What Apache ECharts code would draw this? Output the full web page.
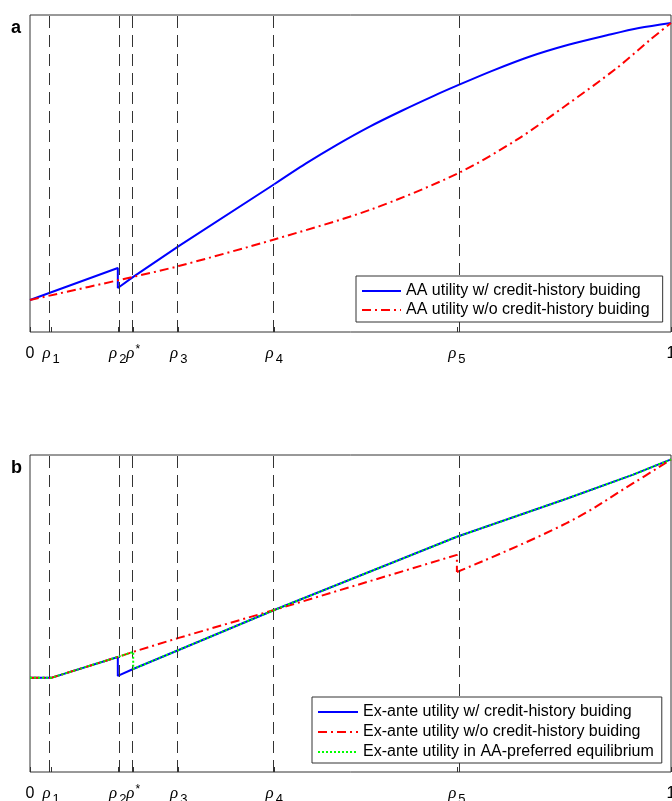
<!DOCTYPE html>
<html>
<head>
<meta charset="utf-8">
<script src="https://cdn.jsdelivr.net/npm/echarts@6/dist/echarts.min.js"></script>
<style>
  html, body { margin: 0; padding: 0; background: #fff; overflow: hidden; }
  #chart { width: 672px; height: 801px; }
</style>
</head>
<body>
<div id="chart"></div>
<script>
// rho axis ticks
const tickValues = [0, 0.033, 0.137, 0.161, 0.232, 0.381, 0.666, 1];
const tickLabels = ['{n|0}', '{r|ρ}{sub|1}', '{r|ρ}{sub|2}', '{r|ρ}{sup|*}', '{r|ρ}{sub|3}', '{r|ρ}{sub|4}', '{r|ρ}{sub|5}', '{n|1}'];
const rhoLines = [0.033, 0.137, 0.161, 0.232, 0.381, 0.666];

// panel a: AA utility (piecewise part, then the curved part from rho4)
const aWithX = [0, 0.137, 0.137, 0.161, 0.232, 0.381];
const aWithY = [0.101, 0.202, 0.139, 0.174, 0.271, 0.466];
const aWithCurveX = [0.381, 0.43, 0.48, 0.53, 0.58, 0.63, 0.666, 0.72, 0.78, 0.84, 0.90, 0.95, 1];
const aWithCurveY = [0.466, 0.531, 0.592, 0.648, 0.698, 0.745, 0.777, 0.823, 0.869, 0.906, 0.936, 0.959, 0.975];
const aWithoutX = [0, 0.161, 0.232, 0.381, 0.530, 0.666, 0.759, 0.837, 0.915, 0.967, 1];
const aWithoutY = [0.101, 0.174, 0.208, 0.292, 0.385, 0.499, 0.606, 0.716, 0.832, 0.921, 0.975];

// panel b: ex-ante utility
const bWithX = [0, 0.033, 0.137, 0.137, 0.161, 0.232, 0.381, 0.666, 0.837, 0.941, 1];
const bWithY = [0.297, 0.297, 0.363, 0.303, 0.325, 0.385, 0.511, 0.742, 0.862, 0.938, 0.986];
const bWithoutX = [0, 0.033, 0.137, 0.161, 0.232, 0.381, 0.666, 0.666];
const bWithoutY = [0.297, 0.297, 0.363, 0.379, 0.423, 0.511, 0.685, 0.631];
const bWithoutCurveX = [0.666, 0.837, 0.941, 1];
const bWithoutCurveY = [0.631, 0.785, 0.911, 0.986];
const bEquilX = [0, 0.033, 0.137, 0.161, 0.161, 0.232, 0.381, 0.666, 0.837, 0.941, 1];
const bEquilY = [0.297, 0.297, 0.363, 0.379, 0.325, 0.385, 0.511, 0.742, 0.862, 0.938, 0.986];

const namesA = ['AA utility w/ credit-history buiding', 'AA utility w/o credit-history buiding'];
const namesB = ['Ex-ante utility w/ credit-history buiding', 'Ex-ante utility w/o credit-history buiding', 'Ex-ante utility in AA-preferred equilibrium'];

const zip = (xs, ys) => xs.map((x, i) => [x, ys[i]]);

const chart = echarts.init(document.getElementById('chart'));

const font = 'Liberation Sans, Arial, sans-serif';
const rich = {
  n: { fontSize: 16, fontFamily: font, color: '#000', lineHeight: 22 },
  r: { fontSize: 17, fontFamily: 'Liberation Serif, serif', fontStyle: 'italic', color: '#000', lineHeight: 22 },
  sub: { fontSize: 13, fontFamily: font, color: '#000', lineHeight: 22, padding: [11, 0, 0, 2] },
  sup: { fontSize: 12, fontFamily: font, color: '#000', lineHeight: 22, padding: [0, 0, 9, 1] }
};

const labelFor = v => {
  const i = tickValues.findIndex(t => Math.abs(t - v) < 1e-6);
  return i < 0 ? '' : tickLabels[i];
};

const makeX = idx => ({
  type: 'value',
  gridIndex: idx,
  min: 0,
  max: 1,
  axisLine: { show: false },
  splitLine: { show: false },
  axisTick: { show: true, inside: true, length: 5, customValues: tickValues, lineStyle: { color: '#333' } },
  axisLabel: { customValues: tickValues, margin: 11, formatter: labelFor, rich: rich }
});

const makeY = idx => ({
  type: 'value',
  gridIndex: idx,
  min: 0,
  max: 1,
  axisLine: { show: false },
  axisTick: { show: false },
  axisLabel: { show: false },
  splitLine: { show: false }
});

const dashLines = {
  silent: true,
  symbol: ['none', 'none'],
  label: { show: false },
  lineStyle: { type: [12, 7], color: '#333', width: 1 },
  data: rhoLines.map(v => ({ xAxis: v }))
};

const blue = { color: '#0000ff', width: 2 };
const red = { color: '#ff0000', width: 2, type: [9, 4, 2, 4] };
const green = { color: '#00ff00', width: 2, type: [2, 2] };

const legendBase = {
  orient: 'vertical',
  itemHeight: 16,
  selectedMode: false,
  borderColor: '#333',
  borderWidth: 1,
  backgroundColor: '#fff',
  z: 20,
  itemStyle: { opacity: 0 },
  textStyle: { fontSize: 16, fontFamily: font, color: '#000' }
};

const line = (name, grid, xs, ys, style, z, extra) => Object.assign({
  type: 'line', name: name, xAxisIndex: grid, yAxisIndex: grid,
  data: zip(xs, ys), symbol: 'none', lineStyle: style,
  itemStyle: { color: style.color }, z: z
}, extra || {});

const gridBase = { left: 30, width: 641, height: 317, show: true, borderColor: '#333', borderWidth: 1, backgroundColor: 'transparent', containLabel: false, outerBoundsMode: 'none' };

const option = {
  animation: false,
  grid: [
    Object.assign({}, gridBase, { top: 15 }),
    Object.assign({}, gridBase, { top: 455 })
  ],
  xAxis: [makeX(0), makeX(1)],
  yAxis: [makeY(0), makeY(1)],
  legend: [
    Object.assign({}, legendBase, { left: 356, top: 276, itemWidth: 39, itemGap: 3, padding: [7, 13, 4, 5], data: namesA }),
    Object.assign({}, legendBase, { left: 312, top: 697, itemWidth: 40, itemGap: 4, padding: [7, 8, 3, 5], data: namesB })
  ],
  graphic: [
    { type: 'text', left: 11, top: 19, z: 30, style: { text: 'a', font: 'bold 18px ' + font, fill: '#000' } },
    { type: 'text', left: 11, top: 459, z: 30, style: { text: 'b', font: 'bold 18px ' + font, fill: '#000' } }
  ],
  series: [
    line(namesA[0], 0, aWithX, aWithY, blue, 3, { markLine: dashLines }),
    line(namesA[0], 0, aWithCurveX, aWithCurveY, blue, 3, { smooth: 0.3 }),
    line(namesA[1], 0, aWithoutX, aWithoutY, red, 4, { smooth: 0.3 }),
    line(namesB[0], 1, bWithX, bWithY, blue, 3, { markLine: dashLines }),
    line(namesB[1], 1, bWithoutX, bWithoutY, red, 4),
    line(namesB[1], 1, bWithoutCurveX, bWithoutCurveY, red, 4, { smooth: 0.4 }),
    line(namesB[2], 1, bEquilX, bEquilY, green, 5)
  ]
};

chart.setOption(option);
</script>
</body>
</html>
